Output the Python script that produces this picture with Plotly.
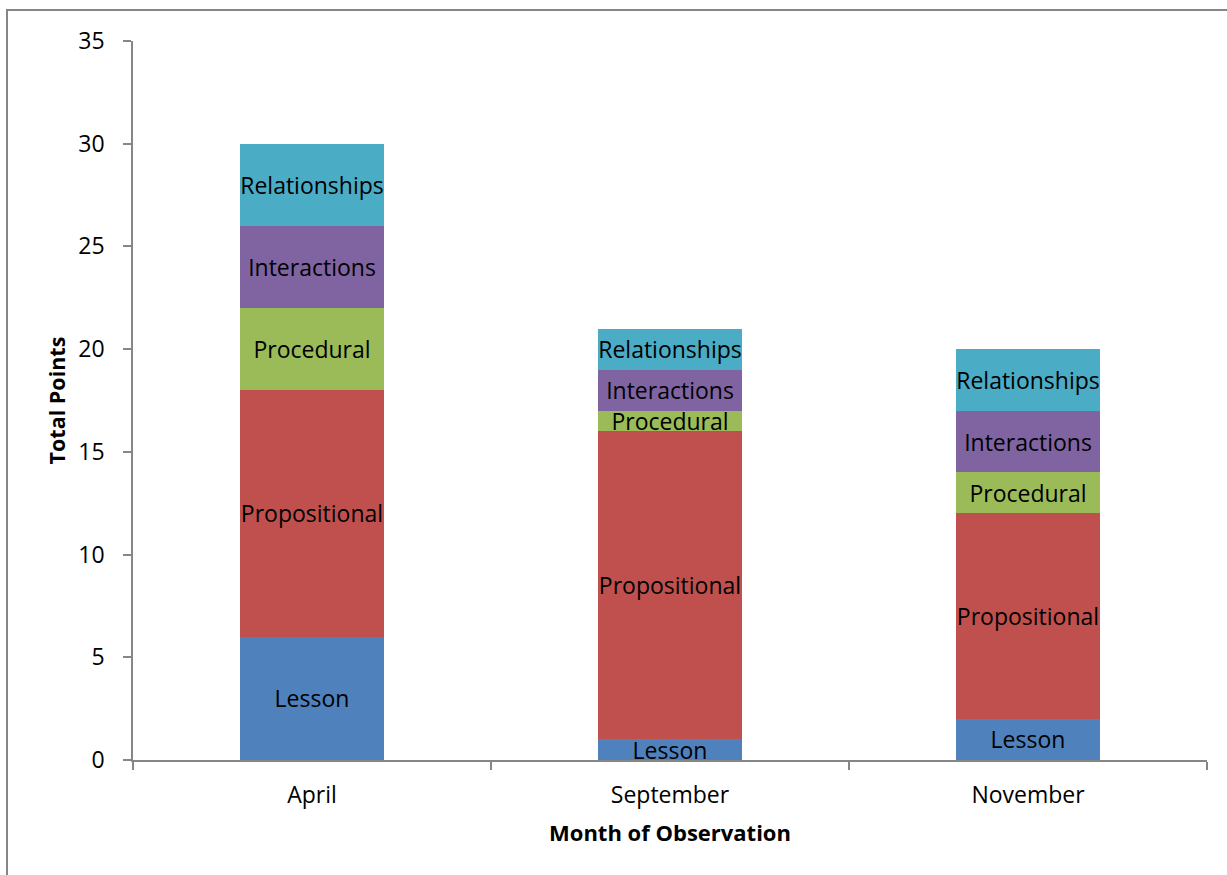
import plotly.graph_objects as go

months = ["April", "September", "November"]
series_names = ["Lesson", "Propositional", "Procedural", "Interactions", "Relationships"]
lesson = [6, 1, 2]
propositional = [12, 15, 10]
procedural = [4, 1, 2]
interactions = [4, 2, 3]
relationships = [4, 2, 3]
colors = ["#4F81BD", "#C0504D", "#9BBB59", "#8064A2", "#4BACC6"]
y_ticks = [0, 5, 10, 15, 20, 25, 30, 35]

FONT = "Open Sans"
FS = 23
values = [lesson, propositional, procedural, interactions, relationships]

fig = go.Figure()
for name, vals, col in zip(series_names, values, colors):
    fig.add_trace(go.Bar(
        x=months, y=vals, name=name,
        marker=dict(color=col, line=dict(width=0)),
        text=[name] * len(vals),
        textposition="inside",
        insidetextanchor="middle",
        textangle=0,
        textfont=dict(family=FONT, size=FS, color="black"),
        hoverinfo="x+y+name",
    ))

W, H = 1227, 875
L, R, T, B = 133, 20, 41, 115
pw, ph = W - L - R, H - T - B

fig.update_layout(
    barmode="stack",
    bargap=0.6,
    width=W, height=H,
    margin=dict(l=L, r=R, t=T, b=B, pad=0),
    paper_bgcolor="white", plot_bgcolor="white",
    showlegend=False,
    font=dict(family=FONT, size=FS, color="black"),
    uniformtext=dict(minsize=FS, mode="show"),
    xaxis=dict(
        type="category",
        showline=True, linecolor="#868686", linewidth=1.5,
        ticks="outside", tickson="boundaries", ticklen=8, tickcolor="#868686", tickwidth=1.5,
        showgrid=False, ticklabelstandoff=14,
        tickfont=dict(family=FONT, size=FS, color="black"),
        title=dict(text="<b>Month of Observation</b>", font=dict(family=FONT, size=22), standoff=16),
        mirror=False,
    ),
    yaxis=dict(
        range=[0, 35], tickvals=y_ticks,
        showline=True, linecolor="#868686", linewidth=1.5,
        ticks="outside", ticklen=8, tickcolor="#868686", tickwidth=1.5,
        showgrid=False, zeroline=False, ticklabelstandoff=14,
        tickfont=dict(family=FONT, size=FS, color="black"),
        title=dict(text="<b>Total Points</b>", font=dict(family=FONT, size=21.5), standoff=7),
    ),
)

# outer chart border
fig.add_shape(
    type="rect", xref="paper", yref="paper",
    x0=(7 - L) / pw, x1=(W + 20 - L) / pw,
    y0=-(H + 20 - T - ph) / ph, y1=(H - 10 - B) / ph,
    line=dict(color="#868686", width=2), fillcolor="rgba(0,0,0,0)", layer="below",
)

fig.write_html("out.html")
